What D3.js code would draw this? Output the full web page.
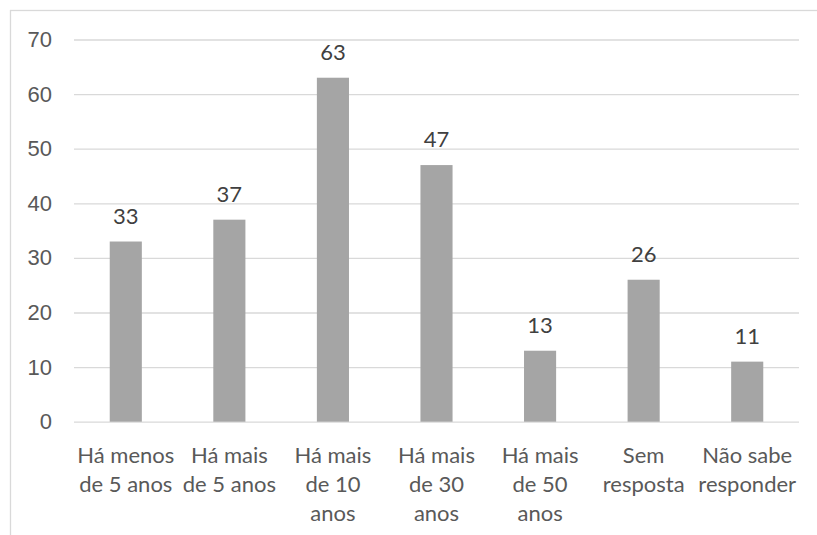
<!DOCTYPE html>
<html>
<head>
<meta charset="utf-8">
<script src="https://cdn.jsdelivr.net/npm/d3@7"></script>
<style>
  html, body { margin: 0; padding: 0; background: #fff; overflow: hidden; }
  svg { display: block; font-family: Lato, "Open Sans", sans-serif; }
</style>
</head>
<body>
<div id="chart"></div>
<script>
const categories = ['Há menos de 5 anos', 'Há mais de 5 anos', 'Há mais de 10 anos', 'Há mais de 30 anos',
  'Há mais de 50 anos', 'Sem resposta', 'Não sabe responder'];
const labelLines = [
  ['Há menos', 'de 5 anos'],
  ['Há mais', 'de 5 anos'],
  ['Há mais', 'de 10', 'anos'],
  ['Há mais', 'de 30', 'anos'],
  ['Há mais', 'de 50', 'anos'],
  ['Sem', 'resposta'],
  ['Não sabe', 'responder']
];
const values = [33, 37, 63, 47, 13, 26, 11];
const yTicks = [0, 10, 20, 30, 40, 50, 60, 70];

const width = 817, height = 535;
const margin = {left: 74, right: 18, top: 39.5, bottom: 113.3};
const drawArea = {width: width - margin.left - margin.right, height: height - margin.top - margin.bottom};
const fontSize = 22;

const svg = d3.select('#chart').append('svg').attr('width', width).attr('height', height);

// chart frame, runs off the right and bottom edges like the original crop
svg.append('rect').attr('x', 10.5).attr('y', 10.5).attr('width', 840).attr('height', 560)
  .attr('fill', 'none').attr('stroke', '#d9d9d9').attr('stroke-width', 1.3);

const x = d3.scaleBand().range([0, drawArea.width]).domain(categories).paddingInner(0.69).paddingOuter(0.345);
const y = d3.scaleLinear().range([drawArea.height, 0]).domain([0, 70]);

const graphBlock = svg.append('g').attr('transform', 'translate(' + margin.left + ' ' + margin.top + ')');

const yAxis = d3.axisLeft(y).tickValues(yTicks).tickSize(-drawArea.width).tickPadding(22);
const yAxisBlock = graphBlock.append('g').attr('class', 'left-axis').call(yAxis);
yAxisBlock.select('.domain').remove();
yAxisBlock.selectAll('line').attr('stroke', '#d9d9d9').attr('stroke-width', 1.3);
yAxisBlock.selectAll('text').attr('fill', '#595959').style('font-size', fontSize + 'px');

graphBlock.append('g').selectAll('rect').data(values).enter().append('rect')
  .attr('x', function (d, i) { return x(categories[i]); })
  .attr('y', function (d) { return y(d); })
  .attr('width', x.bandwidth())
  .attr('height', function (d) { return y(0) - y(d); })
  .attr('fill', '#a5a5a5');

graphBlock.append('g').selectAll('text').data(values).enter().append('text')
  .attr('x', function (d, i) { return x(categories[i]) + x.bandwidth() / 2; })
  .attr('y', function (d) { return y(d) - 18; })
  .attr('text-anchor', 'middle')
  .attr('fill', '#404040')
  .style('font-size', fontSize + 'px')
  .text(function (d) { return d; });

const xLabels = graphBlock.append('g').attr('class', 'bottom-axis').selectAll('text').data(labelLines).enter().append('text')
  .attr('text-anchor', 'middle')
  .attr('fill', '#595959')
  .style('font-size', fontSize + 'px')
  .attr('transform', function (d, i) {
    return 'translate(' + (x(categories[i]) + x.bandwidth() / 2) + ' ' + (y(0) + 40.8) + ')';
  });
xLabels.selectAll('tspan').data(function (d) { return d; }).enter().append('tspan')
  .attr('x', 0)
  .attr('y', function (d, j) { return j * 29; })
  .text(function (d) { return d; });
</script>
</body>
</html>
